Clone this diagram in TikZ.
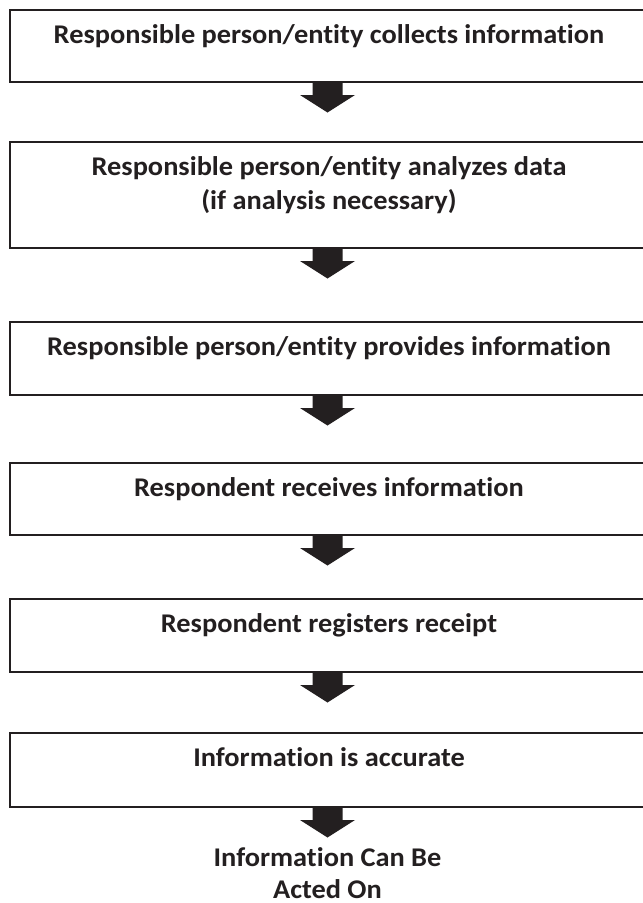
\documentclass[tikz,border=0pt]{standalone}
\usepackage{fontspec}
\setmainfont{Carlito}[Ligatures=NoCommon, FakeStretch=1.05]
\definecolor{ink}{HTML}{231F20}
\tikzset{
  box/.style={draw=ink, line width=2.6pt, minimum width=638pt, anchor=north west, inner sep=0pt, outer sep=0pt},
  lbl/.style={font=\bfseries\fontsize{27}{34}\selectfont, anchor=base, text=ink, inner sep=0pt, align=center},
  blockarrow/.style={fill=ink}
}
\newcommand\flowarrow[1]{\fill[blockarrow] ([xshift=-1.5pt]#1.south) ++(-15,0) -- ++(0,13) -- ++(-12.5,0) -- ++(27.5,17.5) -- ++(27.5,-17.5) -- ++(-12.5,0) -- ++(0,-13) -- cycle;}
\begin{document}
\begin{tikzpicture}[x=1pt,y=-1pt]
\useasboundingbox (0,0) rectangle (643,903);
\clip (0,0) rectangle (643,903);
\fill[white] (0,0) rectangle (643,903);

\node[box, minimum height=72pt]  (b1) at (10,10)  {};
\node[box, minimum height=106pt] (b2) at (10,142) {};
\node[box, minimum height=73pt]  (b3) at (10,322) {};
\node[box, minimum height=72pt]  (b4) at (10,463) {};
\node[box, minimum height=73pt]  (b5) at (10,599) {};
\node[box, minimum height=74pt]  (b6) at (10,733) {};

\node[lbl] (t1) at ([yshift=-33pt]b1.north) {Responsible person/entity collects information};
\node[lbl] (t2) at ([yshift=-33pt]b2.north) {Responsible person/entity analyzes data};
\node[lbl] (t2b) at ([yshift=-67pt]b2.north) {(if analysis necessary)};
\node[lbl] (t3) at ([yshift=-33pt]b3.north) {Responsible person/entity provides information};
\node[lbl] (t4) at ([yshift=-33pt]b4.north) {Respondent receives information};
\node[lbl] (t5) at ([yshift=-33pt]b5.north) {Respondent registers receipt};
\node[lbl] (t6) at ([yshift=-33pt]b6.north) {Information is accurate};

\node[lbl] (f1) at (327.5,866) {Information Can Be};
\node[lbl] (f2) at (327.5,898) {Acted On};

\flowarrow{b1}
\flowarrow{b2}
\flowarrow{b3}
\flowarrow{b4}
\flowarrow{b5}
\flowarrow{b6}
\end{tikzpicture}
\end{document}
